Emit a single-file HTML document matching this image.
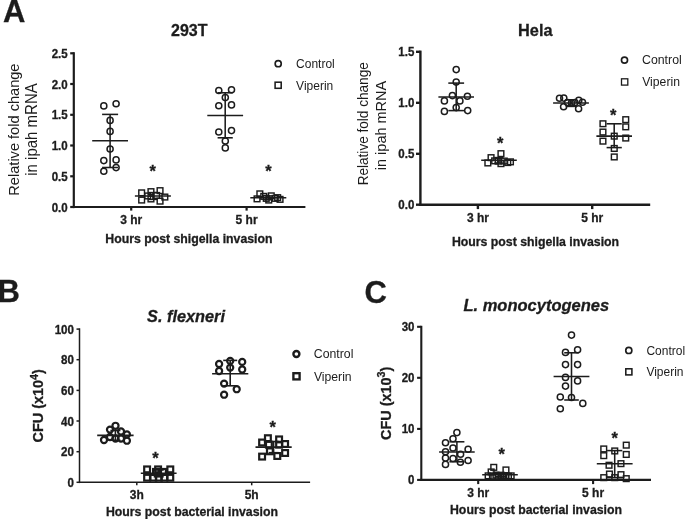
<!DOCTYPE html>
<html><head><meta charset="utf-8"><title>Figure</title>
<style>
html,body{margin:0;padding:0;background:#fff;}
body{width:685px;height:519px;overflow:hidden;font-family:"Liberation Sans",sans-serif;}
svg{display:block;filter:blur(0.3px);}
svg text{font-family:"Liberation Sans",sans-serif;fill:#1c1c1c;}
svg text[font-weight="bold"]{stroke:#1c1c1c;stroke-width:0.3px;}
</style></head><body>
<svg width="685" height="519" viewBox="0 0 685 519">
<rect width="685" height="519" fill="#ffffff"/>
<text transform="translate(3.0,21.8) scale(1,1.04)" font-size="31" font-weight="bold" font-style="normal" text-anchor="start" >A</text>
<text transform="translate(-2.6,302.3) scale(1,1.04)" font-size="31" font-weight="bold" font-style="normal" text-anchor="start" >B</text>
<text transform="translate(364.5,302.7) scale(1,1.04)" font-size="31" font-weight="bold" font-style="normal" text-anchor="start" >C</text>
<text transform="translate(189.3,36.3) scale(1,1.04)" font-size="16" font-weight="bold" font-style="normal" text-anchor="middle" >293T</text>
<text transform="translate(19.1,129.6) rotate(-90) scale(1,1.04)" font-size="14.6" font-weight="normal" text-anchor="middle">Relative fold change</text>
<text transform="translate(36.9,129.5) rotate(-90) scale(1,1.04)" font-size="15.0" font-weight="normal" text-anchor="middle">in ipah mRNA</text>
<line x1="73.8" y1="52.2" x2="73.8" y2="208.1" stroke="#1c1c1c" stroke-width="2.2"/>
<line x1="72.7" y1="207.0" x2="305.4" y2="207.0" stroke="#1c1c1c" stroke-width="2.2"/>
<line x1="70.2" y1="207.0" x2="73.8" y2="207.0" stroke="#1c1c1c" stroke-width="2.2"/>
<text transform="translate(67.7,211.5) scale(1,1.04)" font-size="11.5" font-weight="bold" font-style="normal" text-anchor="end" >0.0</text>
<line x1="70.2" y1="176.3" x2="73.8" y2="176.3" stroke="#1c1c1c" stroke-width="2.2"/>
<text transform="translate(67.7,180.7) scale(1,1.04)" font-size="11.5" font-weight="bold" font-style="normal" text-anchor="end" >0.5</text>
<line x1="70.2" y1="145.5" x2="73.8" y2="145.5" stroke="#1c1c1c" stroke-width="2.2"/>
<text transform="translate(67.7,150.0) scale(1,1.04)" font-size="11.5" font-weight="bold" font-style="normal" text-anchor="end" >1.0</text>
<line x1="70.2" y1="114.8" x2="73.8" y2="114.8" stroke="#1c1c1c" stroke-width="2.2"/>
<text transform="translate(67.7,119.3) scale(1,1.04)" font-size="11.5" font-weight="bold" font-style="normal" text-anchor="end" >1.5</text>
<line x1="70.2" y1="84.0" x2="73.8" y2="84.0" stroke="#1c1c1c" stroke-width="2.2"/>
<text transform="translate(67.7,88.5) scale(1,1.04)" font-size="11.5" font-weight="bold" font-style="normal" text-anchor="end" >2.0</text>
<line x1="70.2" y1="53.3" x2="73.8" y2="53.3" stroke="#1c1c1c" stroke-width="2.2"/>
<text transform="translate(67.7,57.8) scale(1,1.04)" font-size="11.5" font-weight="bold" font-style="normal" text-anchor="end" >2.5</text>
<line x1="131.2" y1="207.0" x2="131.2" y2="210.6" stroke="#1c1c1c" stroke-width="2.2"/>
<text transform="translate(131.2,224.4) scale(1,1.04)" font-size="12" font-weight="bold" font-style="normal" text-anchor="middle" >3 hr</text>
<line x1="246.6" y1="207.0" x2="246.6" y2="210.6" stroke="#1c1c1c" stroke-width="2.2"/>
<text transform="translate(246.6,224.4) scale(1,1.04)" font-size="12" font-weight="bold" font-style="normal" text-anchor="middle" >5 hr</text>
<text transform="translate(188.9,242.9) scale(1,1.04)" font-size="12.3" font-weight="bold" font-style="normal" text-anchor="middle" >Hours post shigella invasion</text>
<circle cx="103.8" cy="105.9" r="3.05" fill="none" stroke="#1c1c1c" stroke-width="1.5"/>
<circle cx="116.1" cy="103.7" r="3.05" fill="none" stroke="#1c1c1c" stroke-width="1.5"/>
<circle cx="110.1" cy="120.4" r="3.05" fill="none" stroke="#1c1c1c" stroke-width="1.5"/>
<circle cx="110.1" cy="131.4" r="3.05" fill="none" stroke="#1c1c1c" stroke-width="1.5"/>
<circle cx="110.1" cy="149.0" r="3.05" fill="none" stroke="#1c1c1c" stroke-width="1.5"/>
<circle cx="103.8" cy="160.6" r="3.05" fill="none" stroke="#1c1c1c" stroke-width="1.5"/>
<circle cx="116.1" cy="159.9" r="3.05" fill="none" stroke="#1c1c1c" stroke-width="1.5"/>
<circle cx="103.8" cy="171.2" r="3.05" fill="none" stroke="#1c1c1c" stroke-width="1.5"/>
<circle cx="116.1" cy="167.6" r="3.05" fill="none" stroke="#1c1c1c" stroke-width="1.5"/>
<line x1="92.2" y1="140.8" x2="128.0" y2="140.8" stroke="#1c1c1c" stroke-width="1.55"/>
<line x1="110.1" y1="114.4" x2="110.1" y2="167.5" stroke="#1c1c1c" stroke-width="1.55"/>
<line x1="102.1" y1="114.4" x2="118.1" y2="114.4" stroke="#1c1c1c" stroke-width="1.55"/>
<line x1="102.1" y1="167.5" x2="118.1" y2="167.5" stroke="#1c1c1c" stroke-width="1.55"/>
<rect x="138.8" y="190.0" width="5.7" height="5.7" fill="none" stroke="#1c1c1c" stroke-width="1.45"/>
<rect x="138.8" y="197.2" width="5.7" height="5.7" fill="none" stroke="#1c1c1c" stroke-width="1.45"/>
<rect x="148.1" y="188.8" width="5.7" height="5.7" fill="none" stroke="#1c1c1c" stroke-width="1.45"/>
<rect x="148.1" y="196.1" width="5.7" height="5.7" fill="none" stroke="#1c1c1c" stroke-width="1.45"/>
<rect x="157.2" y="187.8" width="5.7" height="5.7" fill="none" stroke="#1c1c1c" stroke-width="1.45"/>
<rect x="157.2" y="198.3" width="5.7" height="5.7" fill="none" stroke="#1c1c1c" stroke-width="1.45"/>
<rect x="162.0" y="194.2" width="5.7" height="5.7" fill="none" stroke="#1c1c1c" stroke-width="1.45"/>
<rect x="144.8" y="193.1" width="5.7" height="5.7" fill="none" stroke="#1c1c1c" stroke-width="1.45"/>
<rect x="153.8" y="192.6" width="5.7" height="5.7" fill="none" stroke="#1c1c1c" stroke-width="1.45"/>
<line x1="134.9" y1="196.0" x2="170.9" y2="196.0" stroke="#1c1c1c" stroke-width="1.55"/>
<line x1="152.9" y1="192.6" x2="152.9" y2="199.4" stroke="#1c1c1c" stroke-width="1.55"/>
<line x1="148.4" y1="192.6" x2="157.4" y2="192.6" stroke="#1c1c1c" stroke-width="1.55"/>
<line x1="148.4" y1="199.4" x2="157.4" y2="199.4" stroke="#1c1c1c" stroke-width="1.55"/>
<text transform="translate(152.8,177.4) scale(1,1.04)" font-size="16.5" font-weight="bold" font-style="normal" text-anchor="middle" >*</text>
<circle cx="218.8" cy="90.5" r="3.05" fill="none" stroke="#1c1c1c" stroke-width="1.5"/>
<circle cx="231.5" cy="89.8" r="3.05" fill="none" stroke="#1c1c1c" stroke-width="1.5"/>
<circle cx="225.3" cy="97.6" r="3.05" fill="none" stroke="#1c1c1c" stroke-width="1.5"/>
<circle cx="218.8" cy="105.7" r="3.05" fill="none" stroke="#1c1c1c" stroke-width="1.5"/>
<circle cx="231.5" cy="104.9" r="3.05" fill="none" stroke="#1c1c1c" stroke-width="1.5"/>
<circle cx="218.8" cy="132.0" r="3.05" fill="none" stroke="#1c1c1c" stroke-width="1.5"/>
<circle cx="231.5" cy="130.6" r="3.05" fill="none" stroke="#1c1c1c" stroke-width="1.5"/>
<circle cx="225.3" cy="141.0" r="3.05" fill="none" stroke="#1c1c1c" stroke-width="1.5"/>
<circle cx="225.3" cy="147.9" r="3.05" fill="none" stroke="#1c1c1c" stroke-width="1.5"/>
<line x1="207.3" y1="115.4" x2="243.1" y2="115.4" stroke="#1c1c1c" stroke-width="1.55"/>
<line x1="225.2" y1="92.8" x2="225.2" y2="137.8" stroke="#1c1c1c" stroke-width="1.55"/>
<line x1="217.6" y1="92.8" x2="232.8" y2="92.8" stroke="#1c1c1c" stroke-width="1.55"/>
<line x1="217.6" y1="137.8" x2="232.8" y2="137.8" stroke="#1c1c1c" stroke-width="1.55"/>
<rect x="254.2" y="196.0" width="5.7" height="5.7" fill="none" stroke="#1c1c1c" stroke-width="1.45"/>
<rect x="257.0" y="191.0" width="5.7" height="5.7" fill="none" stroke="#1c1c1c" stroke-width="1.45"/>
<rect x="260.9" y="193.5" width="5.7" height="5.7" fill="none" stroke="#1c1c1c" stroke-width="1.45"/>
<rect x="265.9" y="197.2" width="5.7" height="5.7" fill="none" stroke="#1c1c1c" stroke-width="1.45"/>
<rect x="268.4" y="193.0" width="5.7" height="5.7" fill="none" stroke="#1c1c1c" stroke-width="1.45"/>
<rect x="272.4" y="195.5" width="5.7" height="5.7" fill="none" stroke="#1c1c1c" stroke-width="1.45"/>
<rect x="274.8" y="194.8" width="5.7" height="5.7" fill="none" stroke="#1c1c1c" stroke-width="1.45"/>
<rect x="277.2" y="196.5" width="5.7" height="5.7" fill="none" stroke="#1c1c1c" stroke-width="1.45"/>
<rect x="263.4" y="195.5" width="5.7" height="5.7" fill="none" stroke="#1c1c1c" stroke-width="1.45"/>
<line x1="250.3" y1="197.8" x2="286.3" y2="197.8" stroke="#1c1c1c" stroke-width="1.55"/>
<line x1="268.3" y1="195.9" x2="268.3" y2="199.7" stroke="#1c1c1c" stroke-width="1.55"/>
<line x1="264.3" y1="195.9" x2="272.3" y2="195.9" stroke="#1c1c1c" stroke-width="1.55"/>
<line x1="264.3" y1="199.7" x2="272.3" y2="199.7" stroke="#1c1c1c" stroke-width="1.55"/>
<text transform="translate(268.5,177.3) scale(1,1.04)" font-size="16.5" font-weight="bold" font-style="normal" text-anchor="middle" >*</text>
<circle cx="278.2" cy="63.7" r="3.05" fill="none" stroke="#1c1c1c" stroke-width="1.65"/>
<rect x="275.1" y="82.2" width="6.1" height="6.1" fill="none" stroke="#1c1c1c" stroke-width="1.55"/>
<text transform="translate(296.1,68.1) scale(1,1.04)" font-size="12" font-weight="normal" font-style="normal" text-anchor="start" >Control</text>
<text transform="translate(296.1,89.7) scale(1,1.04)" font-size="12" font-weight="normal" font-style="normal" text-anchor="start" >Viperin</text>
<text transform="translate(535.3,35.8) scale(1,1.04)" font-size="16.3" font-weight="bold" font-style="normal" text-anchor="middle" >Hela</text>
<text transform="translate(367.5,123.8) rotate(-90) scale(1,1.04)" font-size="13.6" font-weight="normal" text-anchor="middle">Relative fold change</text>
<text transform="translate(385.5,125.5) rotate(-90) scale(1,1.04)" font-size="14.5" font-weight="normal" text-anchor="middle">in ipah mRNA</text>
<line x1="420.4" y1="50.6" x2="420.4" y2="205.9" stroke="#1c1c1c" stroke-width="2.4"/>
<line x1="419.2" y1="204.7" x2="650.2" y2="204.7" stroke="#1c1c1c" stroke-width="2.4"/>
<line x1="416.0" y1="204.7" x2="420.4" y2="204.7" stroke="#1c1c1c" stroke-width="2.4"/>
<text transform="translate(414.3,209.2) scale(1,1.04)" font-size="11.5" font-weight="bold" font-style="normal" text-anchor="end" >0.0</text>
<line x1="416.0" y1="153.8" x2="420.4" y2="153.8" stroke="#1c1c1c" stroke-width="2.4"/>
<text transform="translate(414.3,158.2) scale(1,1.04)" font-size="11.5" font-weight="bold" font-style="normal" text-anchor="end" >0.5</text>
<line x1="416.0" y1="102.8" x2="420.4" y2="102.8" stroke="#1c1c1c" stroke-width="2.4"/>
<text transform="translate(414.3,107.3) scale(1,1.04)" font-size="11.5" font-weight="bold" font-style="normal" text-anchor="end" >1.0</text>
<line x1="416.0" y1="51.8" x2="420.4" y2="51.8" stroke="#1c1c1c" stroke-width="2.4"/>
<text transform="translate(414.3,56.3) scale(1,1.04)" font-size="11.5" font-weight="bold" font-style="normal" text-anchor="end" >1.5</text>
<line x1="477.9" y1="204.7" x2="477.9" y2="209.1" stroke="#1c1c1c" stroke-width="2.4"/>
<text transform="translate(477.9,222.0) scale(1,1.04)" font-size="12" font-weight="bold" font-style="normal" text-anchor="middle" >3 hr</text>
<line x1="592.2" y1="204.7" x2="592.2" y2="209.1" stroke="#1c1c1c" stroke-width="2.4"/>
<text transform="translate(592.2,222.0) scale(1,1.04)" font-size="12" font-weight="bold" font-style="normal" text-anchor="middle" >5 hr</text>
<text transform="translate(535.5,245.6) scale(1,1.04)" font-size="12.3" font-weight="bold" font-style="normal" text-anchor="middle" >Hours post shigella invasion</text>
<circle cx="456.2" cy="69.6" r="3.05" fill="none" stroke="#1c1c1c" stroke-width="1.5"/>
<circle cx="456.2" cy="82.1" r="3.05" fill="none" stroke="#1c1c1c" stroke-width="1.5"/>
<circle cx="452.4" cy="95.6" r="3.05" fill="none" stroke="#1c1c1c" stroke-width="1.5"/>
<circle cx="467.4" cy="96.3" r="3.05" fill="none" stroke="#1c1c1c" stroke-width="1.5"/>
<circle cx="444.4" cy="100.9" r="3.05" fill="none" stroke="#1c1c1c" stroke-width="1.5"/>
<circle cx="459.9" cy="100.9" r="3.05" fill="none" stroke="#1c1c1c" stroke-width="1.5"/>
<circle cx="456.2" cy="107.6" r="3.05" fill="none" stroke="#1c1c1c" stroke-width="1.5"/>
<circle cx="444.4" cy="111.4" r="3.05" fill="none" stroke="#1c1c1c" stroke-width="1.5"/>
<circle cx="467.7" cy="110.6" r="3.05" fill="none" stroke="#1c1c1c" stroke-width="1.5"/>
<line x1="438.4" y1="96.9" x2="474.0" y2="96.9" stroke="#1c1c1c" stroke-width="1.55"/>
<line x1="456.2" y1="83.1" x2="456.2" y2="110.6" stroke="#1c1c1c" stroke-width="1.55"/>
<line x1="448.3" y1="83.1" x2="464.1" y2="83.1" stroke="#1c1c1c" stroke-width="1.55"/>
<line x1="448.3" y1="110.6" x2="464.1" y2="110.6" stroke="#1c1c1c" stroke-width="1.55"/>
<rect x="498.1" y="150.8" width="5.7" height="5.7" fill="none" stroke="#1c1c1c" stroke-width="1.45"/>
<rect x="488.2" y="154.8" width="5.7" height="5.7" fill="none" stroke="#1c1c1c" stroke-width="1.45"/>
<rect x="485.0" y="160.1" width="5.7" height="5.7" fill="none" stroke="#1c1c1c" stroke-width="1.45"/>
<rect x="491.8" y="158.0" width="5.7" height="5.7" fill="none" stroke="#1c1c1c" stroke-width="1.45"/>
<rect x="498.1" y="160.8" width="5.7" height="5.7" fill="none" stroke="#1c1c1c" stroke-width="1.45"/>
<rect x="495.3" y="158.3" width="5.7" height="5.7" fill="none" stroke="#1c1c1c" stroke-width="1.45"/>
<rect x="501.4" y="158.2" width="5.7" height="5.7" fill="none" stroke="#1c1c1c" stroke-width="1.45"/>
<rect x="504.9" y="159.7" width="5.7" height="5.7" fill="none" stroke="#1c1c1c" stroke-width="1.45"/>
<rect x="507.6" y="159.0" width="5.7" height="5.7" fill="none" stroke="#1c1c1c" stroke-width="1.45"/>
<line x1="481.2" y1="160.3" x2="516.8" y2="160.3" stroke="#1c1c1c" stroke-width="1.55"/>
<line x1="499.0" y1="157.6" x2="499.0" y2="163.0" stroke="#1c1c1c" stroke-width="1.55"/>
<line x1="494.5" y1="157.6" x2="503.5" y2="157.6" stroke="#1c1c1c" stroke-width="1.55"/>
<line x1="494.5" y1="163.0" x2="503.5" y2="163.0" stroke="#1c1c1c" stroke-width="1.55"/>
<text transform="translate(500.3,149.4) scale(1,1.04)" font-size="16.5" font-weight="bold" font-style="normal" text-anchor="middle" >*</text>
<circle cx="559.5" cy="98.3" r="3.05" fill="none" stroke="#1c1c1c" stroke-width="1.5"/>
<circle cx="563.8" cy="98.1" r="3.05" fill="none" stroke="#1c1c1c" stroke-width="1.5"/>
<circle cx="563.6" cy="106.8" r="3.05" fill="none" stroke="#1c1c1c" stroke-width="1.5"/>
<circle cx="578.6" cy="108.7" r="3.05" fill="none" stroke="#1c1c1c" stroke-width="1.5"/>
<circle cx="578.8" cy="100.2" r="3.05" fill="none" stroke="#1c1c1c" stroke-width="1.5"/>
<circle cx="582.5" cy="102.3" r="3.05" fill="none" stroke="#1c1c1c" stroke-width="1.5"/>
<circle cx="567.5" cy="102.5" r="3.05" fill="none" stroke="#1c1c1c" stroke-width="1.5"/>
<circle cx="571.5" cy="103.0" r="3.05" fill="none" stroke="#1c1c1c" stroke-width="1.5"/>
<circle cx="575.0" cy="102.5" r="3.05" fill="none" stroke="#1c1c1c" stroke-width="1.5"/>
<line x1="553.1" y1="103.0" x2="588.9" y2="103.0" stroke="#1c1c1c" stroke-width="1.55"/>
<line x1="571.0" y1="99.8" x2="571.0" y2="106.4" stroke="#1c1c1c" stroke-width="1.55"/>
<line x1="565.6" y1="99.8" x2="576.4" y2="99.8" stroke="#1c1c1c" stroke-width="1.55"/>
<line x1="565.6" y1="106.4" x2="576.4" y2="106.4" stroke="#1c1c1c" stroke-width="1.55"/>
<rect x="600.1" y="120.9" width="5.7" height="5.7" fill="none" stroke="#1c1c1c" stroke-width="1.45"/>
<rect x="600.1" y="129.2" width="5.7" height="5.7" fill="none" stroke="#1c1c1c" stroke-width="1.45"/>
<rect x="600.1" y="138.3" width="5.7" height="5.7" fill="none" stroke="#1c1c1c" stroke-width="1.45"/>
<rect x="622.9" y="116.8" width="5.7" height="5.7" fill="none" stroke="#1c1c1c" stroke-width="1.45"/>
<rect x="622.9" y="124.0" width="5.7" height="5.7" fill="none" stroke="#1c1c1c" stroke-width="1.45"/>
<rect x="622.9" y="135.2" width="5.7" height="5.7" fill="none" stroke="#1c1c1c" stroke-width="1.45"/>
<rect x="611.4" y="133.3" width="5.7" height="5.7" fill="none" stroke="#1c1c1c" stroke-width="1.45"/>
<rect x="611.4" y="145.6" width="5.7" height="5.7" fill="none" stroke="#1c1c1c" stroke-width="1.45"/>
<rect x="611.4" y="154.1" width="5.7" height="5.7" fill="none" stroke="#1c1c1c" stroke-width="1.45"/>
<line x1="596.4" y1="136.1" x2="632.0" y2="136.1" stroke="#1c1c1c" stroke-width="1.55"/>
<line x1="614.2" y1="123.8" x2="614.2" y2="147.6" stroke="#1c1c1c" stroke-width="1.55"/>
<line x1="606.6" y1="123.8" x2="621.8" y2="123.8" stroke="#1c1c1c" stroke-width="1.55"/>
<line x1="606.6" y1="147.6" x2="621.8" y2="147.6" stroke="#1c1c1c" stroke-width="1.55"/>
<text transform="translate(613.1,120.5) scale(1,1.04)" font-size="16.5" font-weight="bold" font-style="normal" text-anchor="middle" >*</text>
<circle cx="624.5" cy="60.1" r="3.05" fill="none" stroke="#1c1c1c" stroke-width="1.65"/>
<rect x="621.5" y="78.8" width="6.3" height="6.3" fill="none" stroke="#1c1c1c" stroke-width="1.3"/>
<text transform="translate(642.0,64.4) scale(1,1.04)" font-size="12.35" font-weight="normal" font-style="normal" text-anchor="start" >Control</text>
<text transform="translate(642.2,86.0) scale(1,1.04)" font-size="12.2" font-weight="normal" font-style="normal" text-anchor="start" >Viperin</text>
<text transform="translate(186.0,322.2) scale(1,1.04)" font-size="16.3" font-weight="bold" font-style="italic" text-anchor="middle" >S. flexneri</text>
<text transform="translate(42.9,405.8) rotate(-90) scale(1,1.04)" font-size="14.4" font-weight="bold" text-anchor="middle">CFU (x10<tspan font-size="10.8" dy="-5.2">4</tspan><tspan dy="5.2">)</tspan></text>
<line x1="79.5" y1="328.3" x2="79.5" y2="483.1" stroke="#1c1c1c" stroke-width="1.5"/>
<line x1="78.8" y1="482.3" x2="310.1" y2="482.3" stroke="#1c1c1c" stroke-width="1.5"/>
<line x1="76.5" y1="482.3" x2="79.5" y2="482.3" stroke="#1c1c1c" stroke-width="1.5"/>
<text transform="translate(74.0,486.8) scale(1,1.04)" font-size="11.6" font-weight="bold" font-style="normal" text-anchor="end" >0</text>
<line x1="76.5" y1="451.7" x2="79.5" y2="451.7" stroke="#1c1c1c" stroke-width="1.5"/>
<text transform="translate(74.0,456.2) scale(1,1.04)" font-size="11.6" font-weight="bold" font-style="normal" text-anchor="end" >20</text>
<line x1="76.5" y1="421.0" x2="79.5" y2="421.0" stroke="#1c1c1c" stroke-width="1.5"/>
<text transform="translate(74.0,425.5) scale(1,1.04)" font-size="11.6" font-weight="bold" font-style="normal" text-anchor="end" >40</text>
<line x1="76.5" y1="390.4" x2="79.5" y2="390.4" stroke="#1c1c1c" stroke-width="1.5"/>
<text transform="translate(74.0,394.9) scale(1,1.04)" font-size="11.6" font-weight="bold" font-style="normal" text-anchor="end" >60</text>
<line x1="76.5" y1="359.7" x2="79.5" y2="359.7" stroke="#1c1c1c" stroke-width="1.5"/>
<text transform="translate(74.0,364.2) scale(1,1.04)" font-size="11.6" font-weight="bold" font-style="normal" text-anchor="end" >80</text>
<line x1="76.5" y1="329.1" x2="79.5" y2="329.1" stroke="#1c1c1c" stroke-width="1.5"/>
<text transform="translate(74.0,333.6) scale(1,1.04)" font-size="11.6" font-weight="bold" font-style="normal" text-anchor="end" >100</text>
<line x1="136.8" y1="482.3" x2="136.8" y2="485.3" stroke="#1c1c1c" stroke-width="1.5"/>
<text transform="translate(136.8,499.2) scale(1,1.04)" font-size="12" font-weight="bold" font-style="normal" text-anchor="middle" >3h</text>
<line x1="251.7" y1="482.3" x2="251.7" y2="485.3" stroke="#1c1c1c" stroke-width="1.5"/>
<text transform="translate(251.7,499.2) scale(1,1.04)" font-size="12" font-weight="bold" font-style="normal" text-anchor="middle" >5h</text>
<text transform="translate(191.9,516.0) scale(1,1.04)" font-size="12.3" font-weight="bold" font-style="normal" text-anchor="middle" >Hours post bacterial invasion</text>
<circle cx="115.5" cy="425.8" r="3.05" fill="none" stroke="#1c1c1c" stroke-width="2.2"/>
<circle cx="110.0" cy="429.6" r="3.05" fill="none" stroke="#1c1c1c" stroke-width="2.2"/>
<circle cx="104.0" cy="440.0" r="3.05" fill="none" stroke="#1c1c1c" stroke-width="2.2"/>
<circle cx="126.9" cy="434.4" r="3.05" fill="none" stroke="#1c1c1c" stroke-width="2.2"/>
<circle cx="126.9" cy="440.7" r="3.05" fill="none" stroke="#1c1c1c" stroke-width="2.2"/>
<circle cx="110.0" cy="437.0" r="3.05" fill="none" stroke="#1c1c1c" stroke-width="2.2"/>
<circle cx="115.5" cy="438.5" r="3.05" fill="none" stroke="#1c1c1c" stroke-width="2.2"/>
<circle cx="121.0" cy="438.5" r="3.05" fill="none" stroke="#1c1c1c" stroke-width="2.2"/>
<circle cx="121.0" cy="431.5" r="3.05" fill="none" stroke="#1c1c1c" stroke-width="2.2"/>
<line x1="97.2" y1="435.4" x2="133.6" y2="435.4" stroke="#1c1c1c" stroke-width="1.6"/>
<line x1="115.4" y1="430.5" x2="115.4" y2="440.2" stroke="#1c1c1c" stroke-width="1.6"/>
<line x1="110.4" y1="430.5" x2="120.4" y2="430.5" stroke="#1c1c1c" stroke-width="1.6"/>
<line x1="110.4" y1="440.2" x2="120.4" y2="440.2" stroke="#1c1c1c" stroke-width="1.6"/>
<rect x="144.2" y="466.5" width="5.8" height="5.8" fill="none" stroke="#1c1c1c" stroke-width="2.2"/>
<rect x="155.2" y="466.5" width="5.8" height="5.8" fill="none" stroke="#1c1c1c" stroke-width="2.2"/>
<rect x="167.4" y="466.5" width="5.8" height="5.8" fill="none" stroke="#1c1c1c" stroke-width="2.2"/>
<rect x="144.2" y="474.8" width="5.8" height="5.8" fill="none" stroke="#1c1c1c" stroke-width="2.2"/>
<rect x="150.4" y="474.8" width="5.8" height="5.8" fill="none" stroke="#1c1c1c" stroke-width="2.2"/>
<rect x="155.9" y="474.8" width="5.8" height="5.8" fill="none" stroke="#1c1c1c" stroke-width="2.2"/>
<rect x="161.4" y="474.8" width="5.8" height="5.8" fill="none" stroke="#1c1c1c" stroke-width="2.2"/>
<rect x="167.4" y="474.8" width="5.8" height="5.8" fill="none" stroke="#1c1c1c" stroke-width="2.2"/>
<rect x="153.1" y="469.0" width="5.8" height="5.8" fill="none" stroke="#1c1c1c" stroke-width="2.2"/>
<rect x="160.1" y="469.0" width="5.8" height="5.8" fill="none" stroke="#1c1c1c" stroke-width="2.2"/>
<line x1="140.8" y1="473.3" x2="176.6" y2="473.3" stroke="#1c1c1c" stroke-width="1.6"/>
<line x1="158.7" y1="470.0" x2="158.7" y2="476.8" stroke="#1c1c1c" stroke-width="1.6"/>
<line x1="153.7" y1="470.0" x2="163.7" y2="470.0" stroke="#1c1c1c" stroke-width="1.6"/>
<line x1="153.7" y1="476.8" x2="163.7" y2="476.8" stroke="#1c1c1c" stroke-width="1.6"/>
<text transform="translate(155.5,464.4) scale(1,1.04)" font-size="16.5" font-weight="bold" font-style="normal" text-anchor="middle" >*</text>
<circle cx="219.1" cy="364.0" r="3.05" fill="none" stroke="#1c1c1c" stroke-width="2.2"/>
<circle cx="219.1" cy="371.0" r="3.05" fill="none" stroke="#1c1c1c" stroke-width="2.2"/>
<circle cx="230.2" cy="360.9" r="3.05" fill="none" stroke="#1c1c1c" stroke-width="2.2"/>
<circle cx="230.2" cy="367.6" r="3.05" fill="none" stroke="#1c1c1c" stroke-width="2.2"/>
<circle cx="242.2" cy="361.9" r="3.05" fill="none" stroke="#1c1c1c" stroke-width="2.2"/>
<circle cx="242.2" cy="369.5" r="3.05" fill="none" stroke="#1c1c1c" stroke-width="2.2"/>
<circle cx="224.1" cy="383.6" r="3.05" fill="none" stroke="#1c1c1c" stroke-width="2.2"/>
<circle cx="236.7" cy="389.2" r="3.05" fill="none" stroke="#1c1c1c" stroke-width="2.2"/>
<circle cx="224.1" cy="394.7" r="3.05" fill="none" stroke="#1c1c1c" stroke-width="2.2"/>
<line x1="212.1" y1="373.7" x2="248.3" y2="373.7" stroke="#1c1c1c" stroke-width="1.6"/>
<line x1="230.2" y1="360.4" x2="230.2" y2="385.8" stroke="#1c1c1c" stroke-width="1.6"/>
<line x1="223.2" y1="360.4" x2="237.2" y2="360.4" stroke="#1c1c1c" stroke-width="1.6"/>
<line x1="223.2" y1="385.8" x2="237.2" y2="385.8" stroke="#1c1c1c" stroke-width="1.6"/>
<rect x="265.0" y="435.3" width="5.8" height="5.8" fill="none" stroke="#1c1c1c" stroke-width="2.2"/>
<rect x="276.2" y="436.5" width="5.8" height="5.8" fill="none" stroke="#1c1c1c" stroke-width="2.2"/>
<rect x="259.2" y="439.6" width="5.8" height="5.8" fill="none" stroke="#1c1c1c" stroke-width="2.2"/>
<rect x="282.2" y="441.1" width="5.8" height="5.8" fill="none" stroke="#1c1c1c" stroke-width="2.2"/>
<rect x="266.0" y="441.8" width="5.8" height="5.8" fill="none" stroke="#1c1c1c" stroke-width="2.2"/>
<rect x="276.2" y="441.8" width="5.8" height="5.8" fill="none" stroke="#1c1c1c" stroke-width="2.2"/>
<rect x="267.0" y="448.4" width="5.8" height="5.8" fill="none" stroke="#1c1c1c" stroke-width="2.2"/>
<rect x="282.2" y="450.1" width="5.8" height="5.8" fill="none" stroke="#1c1c1c" stroke-width="2.2"/>
<rect x="259.2" y="453.7" width="5.8" height="5.8" fill="none" stroke="#1c1c1c" stroke-width="2.2"/>
<rect x="274.4" y="453.1" width="5.8" height="5.8" fill="none" stroke="#1c1c1c" stroke-width="2.2"/>
<line x1="255.5" y1="447.1" x2="291.7" y2="447.1" stroke="#1c1c1c" stroke-width="1.6"/>
<line x1="273.6" y1="441.5" x2="273.6" y2="452.7" stroke="#1c1c1c" stroke-width="1.6"/>
<line x1="268.6" y1="441.5" x2="278.6" y2="441.5" stroke="#1c1c1c" stroke-width="1.6"/>
<line x1="268.6" y1="452.7" x2="278.6" y2="452.7" stroke="#1c1c1c" stroke-width="1.6"/>
<text transform="translate(272.7,433.4) scale(1,1.04)" font-size="16.5" font-weight="bold" font-style="normal" text-anchor="middle" >*</text>
<circle cx="296.4" cy="354.0" r="3.0" fill="none" stroke="#1c1c1c" stroke-width="2.4"/>
<rect x="293.4" y="373.2" width="6.2" height="6.2" fill="none" stroke="#1c1c1c" stroke-width="2.35"/>
<text transform="translate(313.8,358.1) scale(1,1.04)" font-size="12.3" font-weight="normal" font-style="normal" text-anchor="start" >Control</text>
<text transform="translate(313.9,380.6) scale(1,1.04)" font-size="12.2" font-weight="normal" font-style="normal" text-anchor="start" >Viperin</text>
<text transform="translate(536.3,310.8) scale(1,1.04)" font-size="16.5" font-weight="bold" font-style="italic" text-anchor="middle" >L. monocytogenes</text>
<text transform="translate(390.8,403.3) rotate(-90) scale(1,1.04)" font-size="14.4" font-weight="bold" text-anchor="middle">CFU (x10<tspan font-size="10.8" dy="-5.2">3</tspan><tspan dy="5.2">)</tspan></text>
<line x1="421.3" y1="325.8" x2="421.3" y2="480.9" stroke="#1c1c1c" stroke-width="2.1"/>
<line x1="420.2" y1="479.9" x2="651.0" y2="479.9" stroke="#1c1c1c" stroke-width="2.1"/>
<line x1="417.1" y1="479.9" x2="421.3" y2="479.9" stroke="#1c1c1c" stroke-width="2.1"/>
<text transform="translate(414.5,484.4) scale(1,1.04)" font-size="11.5" font-weight="bold" font-style="normal" text-anchor="end" >0</text>
<line x1="417.1" y1="428.9" x2="421.3" y2="428.9" stroke="#1c1c1c" stroke-width="2.1"/>
<text transform="translate(414.5,433.4) scale(1,1.04)" font-size="11.5" font-weight="bold" font-style="normal" text-anchor="end" >10</text>
<line x1="417.1" y1="377.8" x2="421.3" y2="377.8" stroke="#1c1c1c" stroke-width="2.1"/>
<text transform="translate(414.5,382.3) scale(1,1.04)" font-size="11.5" font-weight="bold" font-style="normal" text-anchor="end" >20</text>
<line x1="417.1" y1="326.8" x2="421.3" y2="326.8" stroke="#1c1c1c" stroke-width="2.1"/>
<text transform="translate(414.5,331.3) scale(1,1.04)" font-size="11.5" font-weight="bold" font-style="normal" text-anchor="end" >30</text>
<line x1="478.2" y1="479.9" x2="478.2" y2="484.1" stroke="#1c1c1c" stroke-width="2.1"/>
<text transform="translate(478.2,496.7) scale(1,1.04)" font-size="12" font-weight="bold" font-style="normal" text-anchor="middle" >3 hr</text>
<line x1="593.1" y1="479.9" x2="593.1" y2="484.1" stroke="#1c1c1c" stroke-width="2.1"/>
<text transform="translate(593.1,496.7) scale(1,1.04)" font-size="12" font-weight="bold" font-style="normal" text-anchor="middle" >5 hr</text>
<text transform="translate(536.0,513.7) scale(1,1.04)" font-size="12.3" font-weight="bold" font-style="normal" text-anchor="middle" >Hours post bacterial invasion</text>
<circle cx="456.9" cy="432.6" r="3.05" fill="none" stroke="#1c1c1c" stroke-width="1.5"/>
<circle cx="453.0" cy="438.8" r="3.05" fill="none" stroke="#1c1c1c" stroke-width="1.5"/>
<circle cx="445.5" cy="442.7" r="3.05" fill="none" stroke="#1c1c1c" stroke-width="1.5"/>
<circle cx="453.0" cy="448.0" r="3.05" fill="none" stroke="#1c1c1c" stroke-width="1.5"/>
<circle cx="468.1" cy="449.3" r="3.05" fill="none" stroke="#1c1c1c" stroke-width="1.5"/>
<circle cx="445.5" cy="451.7" r="3.05" fill="none" stroke="#1c1c1c" stroke-width="1.5"/>
<circle cx="460.6" cy="454.2" r="3.05" fill="none" stroke="#1c1c1c" stroke-width="1.5"/>
<circle cx="445.5" cy="458.1" r="3.05" fill="none" stroke="#1c1c1c" stroke-width="1.5"/>
<circle cx="453.0" cy="458.5" r="3.05" fill="none" stroke="#1c1c1c" stroke-width="1.5"/>
<circle cx="468.1" cy="460.5" r="3.05" fill="none" stroke="#1c1c1c" stroke-width="1.5"/>
<circle cx="460.4" cy="462.2" r="3.05" fill="none" stroke="#1c1c1c" stroke-width="1.5"/>
<circle cx="445.5" cy="464.4" r="3.05" fill="none" stroke="#1c1c1c" stroke-width="1.5"/>
<line x1="439.1" y1="451.9" x2="474.7" y2="451.9" stroke="#1c1c1c" stroke-width="1.55"/>
<line x1="456.9" y1="441.8" x2="456.9" y2="461.8" stroke="#1c1c1c" stroke-width="1.55"/>
<line x1="449.4" y1="441.8" x2="464.4" y2="441.8" stroke="#1c1c1c" stroke-width="1.55"/>
<line x1="449.4" y1="461.8" x2="464.4" y2="461.8" stroke="#1c1c1c" stroke-width="1.55"/>
<rect x="490.9" y="464.5" width="5.7" height="5.7" fill="none" stroke="#1c1c1c" stroke-width="1.45"/>
<rect x="488.3" y="469.1" width="5.7" height="5.7" fill="none" stroke="#1c1c1c" stroke-width="1.45"/>
<rect x="503.1" y="467.1" width="5.7" height="5.7" fill="none" stroke="#1c1c1c" stroke-width="1.45"/>
<rect x="485.3" y="473.0" width="5.7" height="5.7" fill="none" stroke="#1c1c1c" stroke-width="1.45"/>
<rect x="489.6" y="473.3" width="5.7" height="5.7" fill="none" stroke="#1c1c1c" stroke-width="1.45"/>
<rect x="493.1" y="472.3" width="5.7" height="5.7" fill="none" stroke="#1c1c1c" stroke-width="1.45"/>
<rect x="495.6" y="473.5" width="5.7" height="5.7" fill="none" stroke="#1c1c1c" stroke-width="1.45"/>
<rect x="498.1" y="472.5" width="5.7" height="5.7" fill="none" stroke="#1c1c1c" stroke-width="1.45"/>
<rect x="500.6" y="473.5" width="5.7" height="5.7" fill="none" stroke="#1c1c1c" stroke-width="1.45"/>
<rect x="503.1" y="472.8" width="5.7" height="5.7" fill="none" stroke="#1c1c1c" stroke-width="1.45"/>
<rect x="505.6" y="473.5" width="5.7" height="5.7" fill="none" stroke="#1c1c1c" stroke-width="1.45"/>
<rect x="508.3" y="473.0" width="5.7" height="5.7" fill="none" stroke="#1c1c1c" stroke-width="1.45"/>
<line x1="482.2" y1="474.7" x2="517.8" y2="474.7" stroke="#1c1c1c" stroke-width="1.55"/>
<line x1="500.0" y1="472.6" x2="500.0" y2="476.8" stroke="#1c1c1c" stroke-width="1.55"/>
<line x1="495.0" y1="472.6" x2="505.0" y2="472.6" stroke="#1c1c1c" stroke-width="1.55"/>
<line x1="495.0" y1="476.8" x2="505.0" y2="476.8" stroke="#1c1c1c" stroke-width="1.55"/>
<text transform="translate(501.7,459.6) scale(1,1.04)" font-size="16.5" font-weight="bold" font-style="normal" text-anchor="middle" >*</text>
<circle cx="571.5" cy="335.1" r="3.05" fill="none" stroke="#1c1c1c" stroke-width="1.5"/>
<circle cx="565.5" cy="352.4" r="3.05" fill="none" stroke="#1c1c1c" stroke-width="1.5"/>
<circle cx="577.6" cy="349.8" r="3.05" fill="none" stroke="#1c1c1c" stroke-width="1.5"/>
<circle cx="565.5" cy="364.6" r="3.05" fill="none" stroke="#1c1c1c" stroke-width="1.5"/>
<circle cx="577.6" cy="364.6" r="3.05" fill="none" stroke="#1c1c1c" stroke-width="1.5"/>
<circle cx="565.5" cy="377.4" r="3.05" fill="none" stroke="#1c1c1c" stroke-width="1.5"/>
<circle cx="577.6" cy="380.9" r="3.05" fill="none" stroke="#1c1c1c" stroke-width="1.5"/>
<circle cx="565.5" cy="386.1" r="3.05" fill="none" stroke="#1c1c1c" stroke-width="1.5"/>
<circle cx="560.3" cy="397.0" r="3.05" fill="none" stroke="#1c1c1c" stroke-width="1.5"/>
<circle cx="571.5" cy="397.5" r="3.05" fill="none" stroke="#1c1c1c" stroke-width="1.5"/>
<circle cx="582.8" cy="403.4" r="3.05" fill="none" stroke="#1c1c1c" stroke-width="1.5"/>
<circle cx="560.3" cy="408.8" r="3.05" fill="none" stroke="#1c1c1c" stroke-width="1.5"/>
<line x1="553.6" y1="376.5" x2="589.4" y2="376.5" stroke="#1c1c1c" stroke-width="1.55"/>
<line x1="571.5" y1="352.8" x2="571.5" y2="400.0" stroke="#1c1c1c" stroke-width="1.55"/>
<line x1="564.2" y1="352.8" x2="578.8" y2="352.8" stroke="#1c1c1c" stroke-width="1.55"/>
<line x1="564.2" y1="400.0" x2="578.8" y2="400.0" stroke="#1c1c1c" stroke-width="1.55"/>
<rect x="623.4" y="442.3" width="5.7" height="5.7" fill="none" stroke="#1c1c1c" stroke-width="1.45"/>
<rect x="600.9" y="446.1" width="5.7" height="5.7" fill="none" stroke="#1c1c1c" stroke-width="1.45"/>
<rect x="611.9" y="448.1" width="5.7" height="5.7" fill="none" stroke="#1c1c1c" stroke-width="1.45"/>
<rect x="600.9" y="452.8" width="5.7" height="5.7" fill="none" stroke="#1c1c1c" stroke-width="1.45"/>
<rect x="623.4" y="451.6" width="5.7" height="5.7" fill="none" stroke="#1c1c1c" stroke-width="1.45"/>
<rect x="606.2" y="462.4" width="5.7" height="5.7" fill="none" stroke="#1c1c1c" stroke-width="1.45"/>
<rect x="618.1" y="460.8" width="5.7" height="5.7" fill="none" stroke="#1c1c1c" stroke-width="1.45"/>
<rect x="606.6" y="471.2" width="5.7" height="5.7" fill="none" stroke="#1c1c1c" stroke-width="1.45"/>
<rect x="618.1" y="471.8" width="5.7" height="5.7" fill="none" stroke="#1c1c1c" stroke-width="1.45"/>
<rect x="600.9" y="474.8" width="5.7" height="5.7" fill="none" stroke="#1c1c1c" stroke-width="1.45"/>
<rect x="611.9" y="474.8" width="5.7" height="5.7" fill="none" stroke="#1c1c1c" stroke-width="1.45"/>
<rect x="623.4" y="475.8" width="5.7" height="5.7" fill="none" stroke="#1c1c1c" stroke-width="1.45"/>
<line x1="596.8" y1="463.7" x2="632.6" y2="463.7" stroke="#1c1c1c" stroke-width="1.55"/>
<line x1="614.7" y1="450.6" x2="614.7" y2="477.6" stroke="#1c1c1c" stroke-width="1.55"/>
<line x1="607.1" y1="450.6" x2="622.3" y2="450.6" stroke="#1c1c1c" stroke-width="1.55"/>
<line x1="607.1" y1="477.6" x2="622.3" y2="477.6" stroke="#1c1c1c" stroke-width="1.55"/>
<text transform="translate(614.8,444.1) scale(1,1.04)" font-size="16.5" font-weight="bold" font-style="normal" text-anchor="middle" >*</text>
<circle cx="628.8" cy="350.4" r="3.05" fill="none" stroke="#1c1c1c" stroke-width="1.65"/>
<rect x="625.8" y="368.8" width="6.1" height="6.1" fill="none" stroke="#1c1c1c" stroke-width="1.55"/>
<text transform="translate(646.4,355.1) scale(1,1.04)" font-size="12" font-weight="normal" font-style="normal" text-anchor="start" >Control</text>
<text transform="translate(646.4,376.4) scale(1,1.04)" font-size="12" font-weight="normal" font-style="normal" text-anchor="start" >Viperin</text>
</svg>
</body></html>
